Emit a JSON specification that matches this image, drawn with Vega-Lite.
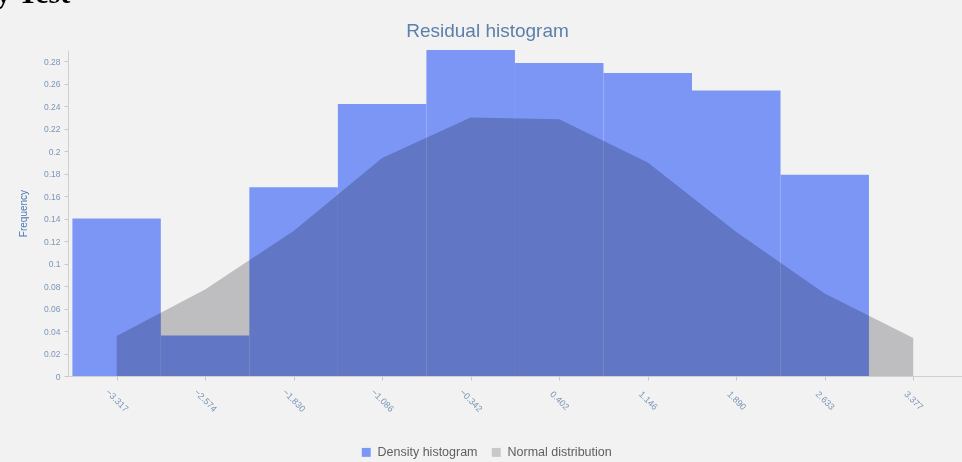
{
  "$schema": "https://vega.github.io/schema/vega-lite/v6.json",
  "width": 894,
  "height": 326,
  "autosize": {"type": "none"},
  "padding": {"left": 68, "top": 50, "right": 0, "bottom": 86},
  "background": "#f2f2f2",
  "title": {
    "text": "y Test",
    "anchor": "start",
    "frame": "group",
    "font": "Liberation Serif",
    "fontSize": 30,
    "fontWeight": "bold",
    "color": "#000000",
    "offset": 0,
    "dx": -72,
    "dy": -12.5
  },
  "datasets": {
    "bars": [
      {"x0": -3.689, "x1": -2.946, "freq": 0.140, "series": "Density histogram"},
      {"x0": -2.946, "x1": -2.202, "freq": 0.036, "series": "Density histogram"},
      {"x0": -2.202, "x1": -1.458, "freq": 0.168, "series": "Density histogram"},
      {"x0": -1.458, "x1": -0.714, "freq": 0.242, "series": "Density histogram"},
      {"x0": -0.714, "x1": 0.030, "freq": 0.290, "series": "Density histogram"},
      {"x0": 0.030, "x1": 0.774, "freq": 0.2785, "series": "Density histogram"},
      {"x0": 0.774, "x1": 1.518, "freq": 0.2695, "series": "Density histogram"},
      {"x0": 1.518, "x1": 2.262, "freq": 0.254, "series": "Density histogram"},
      {"x0": 2.262, "x1": 3.005, "freq": 0.179, "series": "Density histogram"}
    ],
    "curve": [
      {"x": -3.317, "freq": 0.0356, "series": "Normal distribution"},
      {"x": -2.574, "freq": 0.077, "series": "Normal distribution"},
      {"x": -1.830, "freq": 0.129, "series": "Normal distribution"},
      {"x": -1.086, "freq": 0.194, "series": "Normal distribution"},
      {"x": -0.342, "freq": 0.230, "series": "Normal distribution"},
      {"x": 0.402, "freq": 0.2284, "series": "Normal distribution"},
      {"x": 1.146, "freq": 0.190, "series": "Normal distribution"},
      {"x": 1.890, "freq": 0.128, "series": "Normal distribution"},
      {"x": 2.633, "freq": 0.0735, "series": "Normal distribution"},
      {"x": 3.377, "freq": 0.0338, "series": "Normal distribution"}
    ]
  },
  "encoding": {
    "y": {
      "field": "freq",
      "type": "quantitative",
      "scale": {"domain": [0, 0.29], "nice": false, "zero": true},
      "axis": {
        "values": [0, 0.02, 0.04, 0.06, 0.08, 0.1, 0.12, 0.14, 0.16, 0.18, 0.2, 0.22, 0.24, 0.26, 0.28],
        "format": ".2~f",
        "grid": false,
        "labelFont": "Liberation Sans",
        "labelFontSize": 8.5,
        "labelColor": "#7a96b8",
        "labelPadding": 4,
        "tickSize": 4,
        "tickColor": "#c8c8c8",
        "domainColor": "#d0d0d0",
        "title": "Frequency",
        "titleFont": "Liberation Sans",
        "titleFontSize": 10,
        "titleFontWeight": "normal",
        "titleColor": "#4a7ab5",
        "titlePadding": 15
      }
    },
    "color": {
      "field": "series",
      "type": "nominal",
      "scale": {"domain": ["Density histogram", "Normal distribution"], "range": ["#7b96f5", "#c8c8cc"]},
      "legend": {
        "orient": "none",
        "legendX": 292,
        "legendY": 396,
        "direction": "horizontal",
        "title": null,
        "symbolType": "square",
        "symbolSize": 80,
        "symbolStrokeWidth": 0,
        "labelFont": "Liberation Sans",
        "labelFontSize": 12.5,
        "labelColor": "#606060",
        "labelOffset": 5,
        "columnPadding": 12
      }
    }
  },
  "layer": [
    {
      "data": {"name": "bars"},
      "mark": {"type": "rect"},
      "encoding": {
        "x": {
          "field": "x0",
          "type": "quantitative",
          "scale": {"domain": [-3.726, 3.787], "nice": false, "zero": false},
          "axis": {
            "orient": "bottom",
            "values": [-3.317, -2.574, -1.830, -1.086, -0.342, 0.402, 1.146, 1.890, 2.633, 3.377],
            "format": ".3f",
            "grid": false,
            "title": null,
            "labelAngle": 45,
            "labelAlign": "center",
            "labelBaseline": "middle",
            "labelPadding": 20,
            "labelFont": "Liberation Sans",
            "labelFontSize": 9,
            "labelColor": "#7a96b8",
            "tickSize": 4,
            "tickColor": "#c8c8c8",
            "domainColor": "#d0d0d0"
          }
        },
        "x2": {"field": "x1"}
      }
    },
    {
      "data": {"name": "curve"},
      "mark": {"type": "area", "interpolate": "linear", "blend": "multiply"},
      "encoding": {
        "x": {
          "field": "x",
          "type": "quantitative",
          "scale": {"domain": [-3.726, 3.787], "nice": false, "zero": false},
          "axis": {
            "orient": "top",
            "domain": false,
            "ticks": false,
            "labels": false,
            "grid": false,
            "title": "Residual histogram",
            "titleFont": "Liberation Sans",
            "titleFontWeight": "normal",
            "titleFontSize": 19,
            "titleColor": "#5b80ad",
            "titleAlign": "center",
            "titleBaseline": "alphabetic",
            "titleX": 419,
            "titleY": -14
          }
        }
      }
    }
  ],
  "resolve": {"axis": {"x": "independent"}},
  "config": {"view": {"stroke": null}}
}
